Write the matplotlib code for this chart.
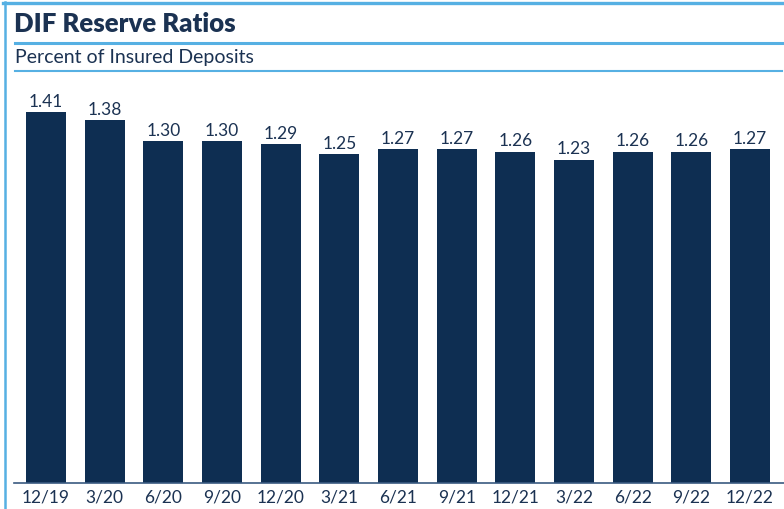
import matplotlib
matplotlib.use("Agg")
import matplotlib.pyplot as plt
from matplotlib.lines import Line2D

categories = ["12/19", "3/20", "6/20", "9/20", "12/20", "3/21", "6/21",
              "9/21", "12/21", "3/22", "6/22", "9/22", "12/22"]
values = [1.41, 1.38, 1.30, 1.30, 1.29, 1.25, 1.27, 1.27, 1.26, 1.23, 1.26, 1.26, 1.27]

NAVY = "#0e2e52"
TEXT = "#1b3252"
BLUE = "#56b0e3"
W, H = 784, 510

plt.rcParams['font.family'] = ['Lato', 'DejaVu Sans']
fig = plt.figure(figsize=(W / 100, H / 100), dpi=100)

def fx(px):
    return px / W

def fy(py):
    return 1 - py / H

# frame lines
fig.add_artist(Line2D([fx(3), fx(784)], [fy(4), fy(4)], color=BLUE, lw=2.4, transform=fig.transFigure))
fig.add_artist(Line2D([fx(4.5), fx(4.5)], [fy(3), fy(510)], color=BLUE, lw=1.8, transform=fig.transFigure))
fig.add_artist(Line2D([fx(15), fx(782)], [fy(43.5), fy(43.5)], color=BLUE, lw=2.2, transform=fig.transFigure))
fig.add_artist(Line2D([fx(15), fx(782)], [fy(72), fy(72)], color=BLUE, lw=1.5, transform=fig.transFigure))

fig.text(fx(14), fy(24.5), "DIF Reserve Ratios", fontsize=18.5, fontweight="heavy",
         color=TEXT, ha="left", va="center")
fig.text(fx(15), fy(58), "Percent of Insured Deposits", fontsize=14,
         color=TEXT, ha="left", va="center")

ax = fig.add_axes([fx(14), fy(484), fx(784) - fx(14), fy(89.5) - fy(484)])
x = list(range(len(categories)))
bars = ax.bar(x, values, width=0.68, color=NAVY, zorder=2)
for xi, v in zip(x, values):
    ax.text(xi, v + 0.012, f"{v:.2f}", ha="center", va="bottom",
            fontsize=12.5, color=TEXT)

ax.set_xlim(-0.545, 12.58)
ax.set_ylim(0, 1.5)
ax.set_xticks(x)
ax.set_xticklabels(categories, fontsize=12.5, color=TEXT)
ax.tick_params(axis="x", length=0, pad=4)
ax.set_yticks([])
for s in ["top", "right", "left"]:
    ax.spines[s].set_visible(False)
ax.spines["bottom"].set_color("#3a5a80")
ax.spines["bottom"].set_linewidth(1.2)
ax.patch.set_alpha(0)

fig.savefig("out.png", dpi=100)
